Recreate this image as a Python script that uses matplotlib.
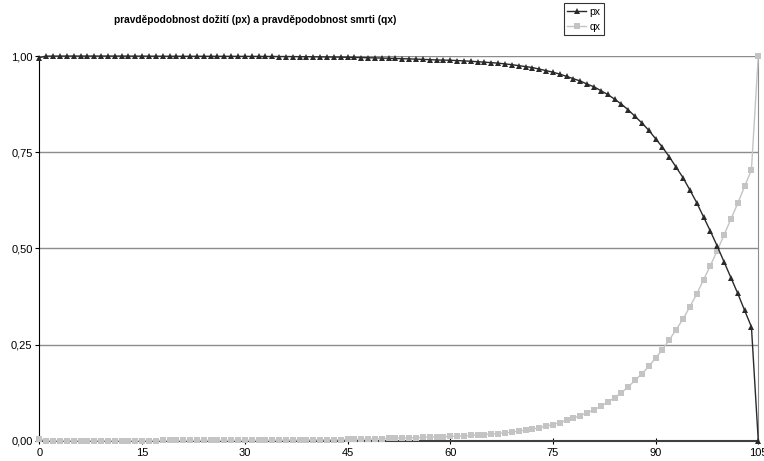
import matplotlib
matplotlib.use('Agg')
from matplotlib import pyplot as plt
from matplotlib.ticker import FuncFormatter

# age 0..105
ages = list(range(0, 106))

# probability of death (qx)
qx = [0.0040, 0.0003, 0.0002, 0.0002, 0.0001, 0.0001, 0.0001, 0.0001, 0.0001, 0.0001,
      0.0001, 0.0001, 0.0002, 0.0002, 0.0003, 0.0003, 0.0004, 0.0005, 0.0006, 0.0006,
      0.0006, 0.0007, 0.0007, 0.0007, 0.0007, 0.0007, 0.0008, 0.0008, 0.0008, 0.0009,
      0.0009, 0.0010, 0.0010, 0.0011, 0.0012, 0.0013, 0.0014, 0.0015, 0.0017, 0.0018,
      0.0020, 0.0022, 0.0025, 0.0027, 0.0030, 0.0033, 0.0037, 0.0041, 0.0045, 0.0049,
      0.0054, 0.0059, 0.0064, 0.0069, 0.0075, 0.0081, 0.0088, 0.0095, 0.0102, 0.0106,
      0.0110, 0.0118, 0.0127, 0.0137, 0.0148, 0.0160, 0.0172, 0.0186, 0.0205, 0.0225,
      0.0250, 0.0275, 0.0300, 0.0340, 0.0380, 0.0420, 0.0470, 0.0530, 0.0590, 0.0650,
      0.0730, 0.0800, 0.0900, 0.1000, 0.1120, 0.1250, 0.1400, 0.1570, 0.1740, 0.1930,
      0.2150, 0.2370, 0.2620, 0.2890, 0.3160, 0.3480, 0.3810, 0.4180, 0.4550, 0.4940,
      0.5350, 0.5760, 0.6170, 0.6610, 0.7040, 1.0000]

# probability of survival (px)
px = [0.9960, 0.9997, 0.9998, 0.9998, 0.9999, 0.9999, 0.9999, 0.9999, 0.9999, 0.9999,
      0.9999, 0.9999, 0.9998, 0.9998, 0.9997, 0.9997, 0.9996, 0.9995, 0.9994, 0.9994,
      0.9994, 0.9993, 0.9993, 0.9993, 0.9993, 0.9993, 0.9992, 0.9992, 0.9992, 0.9991,
      0.9991, 0.9990, 0.9990, 0.9989, 0.9988, 0.9987, 0.9986, 0.9985, 0.9983, 0.9982,
      0.9980, 0.9978, 0.9975, 0.9973, 0.9970, 0.9967, 0.9963, 0.9959, 0.9955, 0.9951,
      0.9946, 0.9941, 0.9936, 0.9931, 0.9925, 0.9919, 0.9912, 0.9905, 0.9898, 0.9894,
      0.9890, 0.9882, 0.9873, 0.9863, 0.9852, 0.9840, 0.9828, 0.9814, 0.9795, 0.9775,
      0.9750, 0.9725, 0.9700, 0.9660, 0.9620, 0.9580, 0.9530, 0.9470, 0.9410, 0.9350,
      0.9270, 0.9200, 0.9100, 0.9000, 0.8880, 0.8750, 0.8600, 0.8430, 0.8260, 0.8070,
      0.7850, 0.7630, 0.7380, 0.7110, 0.6840, 0.6520, 0.6190, 0.5820, 0.5450, 0.5060,
      0.4650, 0.4240, 0.3830, 0.3390, 0.2960, 0.0000]

x_ticks = [0, 15, 30, 45, 60, 75, 90, 105]
y_ticks = [0.0, 0.25, 0.5, 0.75, 1.0]

plt.rcParams['font.family'] = ['Liberation Sans', 'DejaVu Sans']

fig = plt.figure(figsize=(7.64, 4.61), dpi=100)
ax = fig.add_axes([0.0517, 0.044, 0.9408, 0.8345])

for y in y_ticks[1:]:
    ax.axhline(y, color='#8c8c8c', lw=1, zorder=1)

ax.plot(ages, qx, color='#c4c4c4', lw=1, marker='s', markersize=3.8,
        markeredgewidth=0, label='qx', clip_on=False, zorder=3)
ax.plot(ages, px, color='#2a2a2a', lw=1, marker='^', markersize=4.4,
        markeredgewidth=0, label='px', clip_on=False, zorder=4)

ax.set_xlim(0, 105)
ax.set_ylim(0, 1)
ax.set_xticks(x_ticks)
ax.set_yticks(y_ticks)
ax.yaxis.set_major_formatter(FuncFormatter(lambda v, p: ('%.2f' % v).replace('.', ',')))

ax.spines['left'].set_color('black')
ax.spines['bottom'].set_color('#404040')
ax.spines['bottom'].set_linewidth(1.5)
ax.spines['right'].set_color('#8c8c8c')
ax.spines['top'].set_visible(False)

ax.tick_params(axis='both', labelsize=8, length=3, width=0.8, pad=2, colors='black')
ax.tick_params(axis='x', direction='inout', length=5, pad=3)

fig.text(0.334, 0.957, 'pravděpodobnost dožití (px) a pravděpodobnost smrti (qx)',
         ha='center', va='center', fontsize=7.3, fontweight='bold')

handles, labels = ax.get_legend_handles_labels()
leg = fig.legend(handles[::-1], labels[::-1], loc='upper left',
                 bbox_to_anchor=(0.738, 0.993), fontsize=7.5, frameon=True,
                 fancybox=False, edgecolor='black', handlelength=1.8,
                 handletextpad=0.3, borderpad=0.35, labelspacing=0.45,
                 borderaxespad=0)
leg.get_frame().set_linewidth(0.8)

fig.savefig('out.png', dpi=100)
